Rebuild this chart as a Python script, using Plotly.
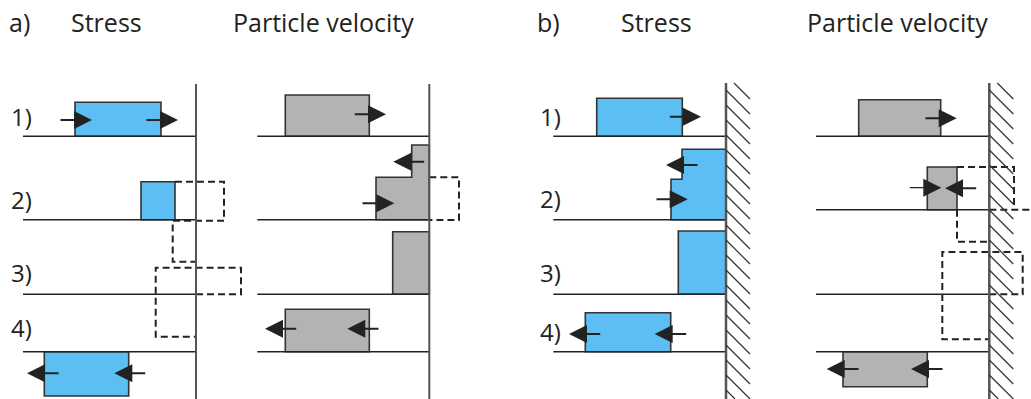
import plotly.graph_objects as go

W, H = 1031, 399

# ---------------- data (pixel-space diagram geometry) ----------------
TITLES = ["a)", "Stress", "Particle velocity", "b)", "Stress", "Particle velocity"]
TITLE_X = [19, 106, 323, 548, 656, 897]
TITLE_Y = 22

ROW_LABELS = ["1)", "2)", "3)", "4)"]
ROW_LABEL_X = [21, 550]
ROW_LABEL_Y_A = [116, 199, 272, 327]
ROW_LABEL_Y_B = [116, 198, 272, 331]

# baselines: (x0, x1, y)
BASE_A_STRESS = [(23, 196, 136.3), (23, 196, 219.7), (23, 196, 294.3), (23, 196, 351.7)]
BASE_A_VEL = [(257.3, 429.3, 136.3), (257.3, 429.3, 219.7), (257.3, 429.3, 294.3), (257.3, 429.3, 351.7)]
BASE_B_STRESS = [(553.3, 726, 136.3), (553.3, 726, 219.7), (553.3, 726, 294.3), (553.3, 726, 351.7)]
BASE_B_VEL = [(816, 989.3, 136.3), (816, 989.3, 209.7), (816, 989.3, 294.3), (816, 989.3, 351.7)]

# walls: (x, y_top, y_bottom)
WALLS_PLAIN = [(196, 84, 399), (429.3, 84, 399)]
WALLS_FIXED = [(726, 83, 399), (989.3, 83, 399)]
HATCH_WIDTH = 24
HATCH_STEP = 15
HATCH_START = 75

# polygons (list of vertices) – stress pulses (blue) and velocity pulses (grey)
BLUE_POLYS = [
    [(75, 102.3), (161, 102.3), (161, 136.3), (75, 136.3)],
    [(141, 181.7), (175, 181.7), (175, 219.7), (141, 219.7)],
    [(44.3, 351.7), (128.7, 351.7), (128.7, 396), (44.3, 396)],
    [(596.7, 98.3), (682.3, 98.3), (682.3, 136.3), (596.7, 136.3)],
    [(671, 219.7), (671, 179.3), (682, 179.3), (682, 149.3), (726, 149.3), (726, 219.7)],
    [(678.3, 231), (726, 231), (726, 294.3), (678.3, 294.3)],
    [(585.3, 312.7), (670.7, 312.7), (670.7, 351.7), (585.3, 351.7)],
]
GREY_POLYS = [
    [(285.3, 95), (369.3, 95), (369.3, 136.3), (285.3, 136.3)],
    [(376, 219.7), (376, 177.3), (411.7, 177.3), (411.7, 145), (429.3, 145), (429.3, 219.7)],
    [(392.7, 231.7), (429.3, 231.7), (429.3, 294.3), (392.7, 294.3)],
    [(285.3, 309.3), (369.3, 309.3), (369.3, 351.7), (285.3, 351.7)],
    [(858.7, 99.7), (940.7, 99.7), (940.7, 136.3), (858.7, 136.3)],
    [(927.3, 167), (957, 167), (957, 209.7), (927.3, 209.7)],
    [(843, 351.7), (927.3, 351.7), (927.3, 386.7), (843, 386.7)],
]

# dashed (reflected / virtual) pulse outlines: open polylines
DASHED = [
    [(175, 181.7), (224, 181.7), (224, 220.7), (172.7, 220.7), (172.7, 261.7), (196, 261.7)],
    [(196, 294.3), (241, 294.3), (241, 267.7), (155.7, 267.7), (155.7, 336.7), (196, 336.7)],
    [(429.3, 177.3), (459, 177.3), (459, 220), (429.3, 220)],
    [(957, 167), (1014, 167), (1014, 209.7)],
    [(989.3, 209.7), (1031, 209.7)],
    [(957, 209.7), (957, 241.7), (989.3, 241.7)],
    [(989.3, 294.3), (1022.7, 294.3), (1022.7, 252), (942.3, 252), (942.3, 339.3), (989.3, 339.3)],
]

# arrows: (tail_x, tip_x, y, width)
ARROWS = [
    (59, 92, 120, 2), (145, 178, 120, 2), (60, 27, 373.3, 2), (146.7, 114.3, 373.3, 2),
    (353.3, 386, 114.3, 2), (425.7, 393.3, 161.7, 2), (361, 394.3, 203.3, 2),
    (297.7, 265, 328.7, 2), (380, 347.3, 328.7, 2),
    (668.3, 701, 116.7, 2), (699, 666, 165, 2), (655, 687.7, 199.3, 2),
    (601.7, 569, 334, 2), (687.7, 654.7, 334, 2),
    (924, 956.7, 118.3, 2), (908.3, 941.3, 187.7, 1.3), (977.7, 945, 188.3, 2),
    (860, 826.7, 369, 2), (944, 911, 369, 2),
]

BLUE = "#5CBEF2"
GREY = "#B3B3B3"
INK = "#222222"
OUTLINE = "#333333"
WALL = "#555555"
FONT = "Open Sans"

# ---------------- figure ----------------
fig = go.Figure()
fig.add_trace(go.Scatter(x=[0, W], y=[0, H], mode="markers", marker=dict(opacity=0), hoverinfo="skip", showlegend=False))


def poly_path(pts, close):
    p = "M" + " L".join(f"{x},{y}" for x, y in pts)
    return p + (" Z" if close else "")


for pts in BLUE_POLYS:
    fig.add_shape(type="path", path=poly_path(pts, True), fillcolor=BLUE,
                  line=dict(color=OUTLINE, width=1.6), layer="above")
for pts in GREY_POLYS:
    fig.add_shape(type="path", path=poly_path(pts, True), fillcolor=GREY,
                  line=dict(color=OUTLINE, width=1.6), layer="above")

for group in (BASE_A_STRESS, BASE_A_VEL, BASE_B_STRESS, BASE_B_VEL):
    for x0, x1, y in group:
        fig.add_shape(type="line", x0=x0, x1=x1, y0=y, y1=y, line=dict(color=INK, width=1.5))

for pts in DASHED:
    fig.add_shape(type="path", path=poly_path(pts, False),
                  line=dict(color=INK, width=2, dash="7px,4px"))

for x, y0, y1 in WALLS_PLAIN:
    fig.add_shape(type="line", x0=x, x1=x, y0=y0, y1=y1, line=dict(color=WALL, width=2))

for x, y0, y1 in WALLS_FIXED:
    fig.add_shape(type="line", x0=x, x1=x, y0=y0, y1=y1, line=dict(color=WALL, width=2.5))
    yi = HATCH_START
    while yi < y1:
        sx, sy = x, yi
        ex, ey = x + HATCH_WIDTH, yi + HATCH_WIDTH
        if sy < y0:
            sx += (y0 - sy)
            sy = y0
        if ey > y1:
            ex -= (ey - y1)
            ey = y1
        if ex > sx:
            fig.add_shape(type="line", x0=sx, x1=ex, y0=sy, y1=ey,
                          line=dict(color=OUTLINE, width=1.2))
        yi += HATCH_STEP

for tail, tip, y, w in ARROWS:
    fig.add_annotation(x=tip, y=y, ax=tail, ay=y, xref="x", yref="y", axref="x", ayref="y",
                       text="", showarrow=True, arrowhead=2, arrowsize=3.6 / w, arrowwidth=w,
                       arrowcolor=INK, standoff=0, startstandoff=0)

for t, x in zip(TITLES, TITLE_X):
    fig.add_annotation(x=x, y=TITLE_Y, text=t, showarrow=False, xref="x", yref="y",
                       font=dict(family=FONT, size=25, color=INK), xanchor="center", yanchor="middle")

for lab, ya, yb in zip(ROW_LABELS, ROW_LABEL_Y_A, ROW_LABEL_Y_B):
    fig.add_annotation(x=ROW_LABEL_X[0], y=ya, text=lab, showarrow=False,
                       font=dict(family=FONT, size=24, color=INK), xanchor="center", yanchor="middle")
    fig.add_annotation(x=ROW_LABEL_X[1], y=yb, text=lab, showarrow=False,
                       font=dict(family=FONT, size=24, color=INK), xanchor="center", yanchor="middle")

fig.update_layout(
    width=W, height=H, margin=dict(l=0, r=0, t=0, b=0),
    paper_bgcolor="white", plot_bgcolor="white", showlegend=False,
    xaxis=dict(range=[0, W], visible=False, fixedrange=True),
    yaxis=dict(range=[H, 0], visible=False, fixedrange=True),
)

fig.write_html("out.html")
